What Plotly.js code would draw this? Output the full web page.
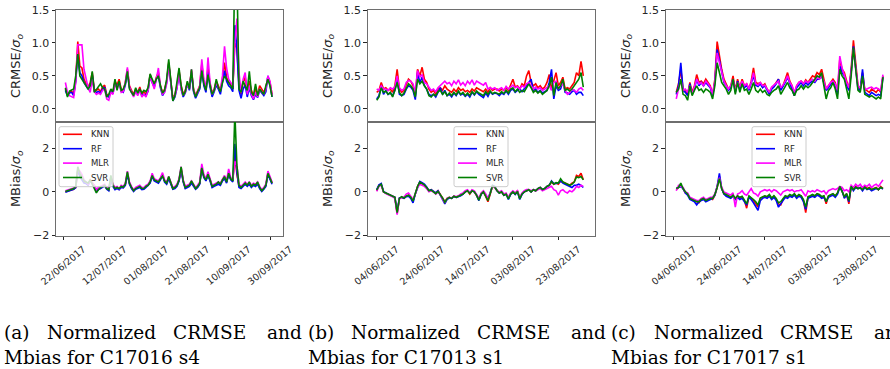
<!DOCTYPE html>
<html>
<head>
<meta charset="utf-8">
<script src="https://cdn.plot.ly/plotly-3.0.1.min.js"></script>
<style>
  html, body { margin: 0; padding: 0; overflow: hidden; background: #fff; }
  #fig { width: 893px; height: 369px; }
</style>
</head>
<body>
<div id="fig"></div>
<script>
// ---- models and colours ----
const MODELS = ['KNN', 'RF', 'MLR', 'SVR'];
const COLORS = ['#ff0000', '#0000ff', '#ff00ff', '#008000'];

// ---- (a) C17016 s4 : daily values from 23/06/2017 ----
const A_START = '2017-06-23';
const A_TICKS = ['2017-06-22', '2017-07-12', '2017-08-01', '2017-08-21', '2017-09-10', '2017-09-30'];
const A_CRMSE_KNN = [0.30,0.22,0.25,0.27,0.22,0.45,1.02,0.65,0.62,0.45,
 0.38,0.33,0.40,0.55,0.30,0.28,0.30,0.26,0.33,0.36,
 0.22,0.20,0.28,0.25,0.42,0.36,0.45,0.30,0.28,0.40,
 0.60,0.35,0.28,0.22,0.30,0.25,0.33,0.22,0.26,0.22,
 0.30,0.52,0.42,0.36,0.48,0.55,0.35,0.24,0.30,0.42,
 0.70,0.45,0.15,0.22,0.35,0.58,0.35,0.22,0.28,0.40,
 0.32,0.58,0.30,0.20,0.28,0.35,0.68,0.40,0.30,0.62,
 0.38,0.24,0.30,0.42,0.35,0.28,0.45,0.70,0.48,0.40,
 0.38,0.30,1.00,0.92,0.35,0.22,0.40,0.48,0.25,0.42,
 0.28,0.20,0.30,0.22,0.35,0.30,0.25,0.32,0.48,0.40,0.22];
const A_CRMSE_RF = [0.28,0.20,0.24,0.25,0.20,0.42,0.82,0.55,0.50,0.40,
 0.35,0.30,0.36,0.52,0.27,0.25,0.26,0.24,0.30,0.33,
 0.20,0.18,0.26,0.23,0.40,0.33,0.40,0.27,0.25,0.36,
 0.55,0.32,0.25,0.20,0.27,0.22,0.30,0.20,0.22,0.20,
 0.27,0.50,0.40,0.33,0.45,0.50,0.32,0.20,0.26,0.40,
 0.68,0.42,0.12,0.18,0.32,0.55,0.30,0.18,0.24,0.38,
 0.28,0.55,0.26,0.16,0.24,0.30,0.58,0.35,0.25,0.55,
 0.33,0.18,0.26,0.36,0.30,0.22,0.40,0.58,0.42,0.35,
 0.32,0.26,1.27,0.90,0.28,0.16,0.30,0.36,0.18,0.32,
 0.20,0.14,0.22,0.17,0.28,0.24,0.20,0.26,0.50,0.36,0.18];
const A_CRMSE_MLR = [0.40,0.25,0.20,0.18,0.17,0.40,0.97,0.97,0.97,0.60,
 0.48,0.32,0.25,0.45,0.26,0.22,0.24,0.22,0.28,0.30,
 0.15,0.13,0.25,0.22,0.38,0.30,0.40,0.25,0.26,0.40,
 0.63,0.33,0.25,0.18,0.26,0.20,0.28,0.18,0.22,0.18,
 0.28,0.50,0.40,0.30,0.45,0.62,0.33,0.22,0.25,0.38,
 0.66,0.40,0.14,0.20,0.32,0.55,0.30,0.20,0.25,0.38,
 0.30,0.60,0.28,0.20,0.25,0.35,0.75,0.45,0.30,0.78,
 0.40,0.22,0.28,0.40,0.32,0.28,0.50,0.95,0.62,0.45,
 0.40,0.35,1.00,1.37,0.55,0.25,0.45,0.55,0.22,0.35,
 0.22,0.15,0.25,0.18,0.30,0.25,0.22,0.30,0.50,0.42,0.20];
const A_CRMSE_SVR = [0.32,0.18,0.27,0.28,0.30,0.50,0.83,0.50,0.45,0.42,
 0.36,0.30,0.35,0.57,0.25,0.30,0.34,0.38,0.32,0.30,
 0.18,0.22,0.30,0.26,0.45,0.28,0.42,0.28,0.30,0.38,
 0.57,0.30,0.25,0.20,0.32,0.24,0.30,0.24,0.28,0.26,
 0.32,0.53,0.45,0.38,0.45,0.50,0.35,0.24,0.28,0.45,
 0.75,0.48,0.12,0.20,0.38,0.62,0.35,0.20,0.26,0.42,
 0.30,0.60,0.28,0.18,0.26,0.32,0.58,0.38,0.28,0.52,
 0.36,0.22,0.28,0.45,0.32,0.26,0.40,0.50,0.45,0.40,
 0.35,0.30,2.20,2.00,0.30,0.25,0.42,0.35,0.28,0.57,
 0.25,0.20,0.38,0.20,0.30,0.26,0.22,0.35,0.45,0.35,0.18];
const A_MBIAS_KNN = [0.00,0.03,0.05,0.10,0.12,0.20,0.95,0.75,0.60,0.45,
 0.40,0.35,0.55,0.45,0.30,0.05,0.12,0.20,0.25,0.30,
 0.15,0.10,0.65,0.30,0.15,0.20,0.12,0.25,0.20,0.35,
 0.85,0.40,0.20,0.05,0.15,0.20,0.25,0.15,0.15,0.25,
 0.30,0.45,0.75,0.55,0.50,0.45,0.60,0.80,0.50,0.40,
 0.65,0.40,0.15,0.20,0.30,0.55,1.05,0.50,0.20,0.25,
 0.30,0.45,0.30,0.15,0.25,0.40,1.10,0.70,0.55,0.80,
 0.55,0.25,0.30,0.35,0.40,0.35,0.55,0.65,0.45,0.85,
 0.60,0.50,1.70,0.80,0.25,0.20,0.30,0.40,0.30,0.40,
 0.25,0.35,0.30,0.40,0.20,0.05,0.15,0.30,0.85,0.60,0.40];
const A_MBIAS_RF = [-0.02,0.00,0.05,0.08,0.12,0.20,1.00,0.70,0.55,0.40,
 0.38,0.30,0.50,0.40,0.25,0.00,0.10,0.15,0.22,0.28,
 0.12,0.05,0.60,0.25,0.10,0.15,0.10,0.20,0.18,0.30,
 0.80,0.35,0.15,0.02,0.12,0.15,0.20,0.10,0.12,0.20,
 0.28,0.40,0.70,0.50,0.45,0.40,0.55,0.75,0.45,0.35,
 0.60,0.35,0.12,0.15,0.25,0.50,1.00,0.45,0.15,0.20,
 0.25,0.40,0.25,0.12,0.20,0.35,1.05,0.65,0.50,0.75,
 0.50,0.20,0.25,0.30,0.35,0.30,0.50,0.60,0.40,0.80,
 0.55,0.45,2.20,0.90,0.20,0.15,0.25,0.35,0.25,0.35,
 0.20,0.30,0.25,0.35,0.15,0.02,0.12,0.25,0.80,0.55,0.35];
const A_MBIAS_MLR = [0.05,0.08,0.10,0.15,0.18,0.25,1.00,0.95,0.80,0.55,
 0.45,0.35,0.50,0.40,0.30,0.10,0.20,0.25,0.30,0.35,
 0.20,0.15,0.70,0.35,0.20,0.25,0.15,0.30,0.25,0.40,
 0.95,0.45,0.25,0.08,0.20,0.25,0.30,0.20,0.20,0.30,
 0.35,0.50,0.85,0.60,0.55,0.50,0.65,0.88,0.55,0.45,
 0.70,0.45,0.20,0.25,0.35,0.60,1.15,0.55,0.25,0.30,
 0.35,0.50,0.35,0.20,0.30,0.45,1.28,0.80,0.60,0.92,
 0.60,0.30,0.35,0.40,0.45,0.40,0.60,0.75,0.50,1.05,
 0.65,0.55,1.40,1.20,0.35,0.25,0.35,0.45,0.35,0.45,
 0.30,0.40,0.35,0.45,0.25,0.10,0.20,0.35,0.95,0.70,0.45];
const A_MBIAS_SVR = [0.02,0.05,0.08,0.12,0.15,0.25,1.15,0.85,0.65,0.50,
 0.45,0.40,0.55,0.35,0.20,-0.05,0.10,0.20,0.25,0.30,
 0.15,0.10,0.75,0.30,0.15,0.20,0.15,0.25,0.22,0.35,
 0.92,0.40,0.20,0.05,0.15,0.20,0.25,0.15,0.15,0.25,
 0.30,0.45,0.75,0.55,0.50,0.45,0.60,0.72,0.50,0.40,
 0.70,0.40,0.15,0.20,0.30,0.55,1.15,0.50,0.20,0.25,
 0.30,0.50,0.30,0.15,0.25,0.40,1.10,0.70,0.55,0.80,
 0.55,0.25,0.30,0.35,0.45,0.35,0.55,0.70,0.45,0.85,
 0.60,0.50,3.60,1.20,0.30,0.20,0.30,0.40,0.30,0.45,
 0.25,0.35,0.30,0.45,0.20,0.05,0.15,0.30,0.85,0.60,0.40];

// ---- (b) C17013 s1 : daily values from 04/06/2017 ----
const B_START = '2017-06-04';
const B_TICKS = ['2017-06-04', '2017-06-24', '2017-07-14', '2017-08-03', '2017-08-23'];
const B_CRMSE_KNN = [0.25,0.28,0.40,0.30,0.32,0.28,0.30,0.25,0.35,0.60,
 0.30,0.25,0.28,0.38,0.45,0.42,0.35,0.20,0.60,0.50,
 0.63,0.45,0.40,0.30,0.25,0.28,0.22,0.30,0.32,0.28,
 0.35,0.30,0.28,0.25,0.30,0.26,0.32,0.28,0.30,0.26,
 0.28,0.25,0.30,0.27,0.32,0.30,0.28,0.26,0.30,0.25,
 0.32,0.28,0.30,0.30,0.27,0.30,0.28,0.32,0.28,0.38,
 0.45,0.33,0.35,0.30,0.38,0.35,0.50,0.58,0.40,0.35,
 0.38,0.32,0.35,0.30,0.33,0.40,0.52,0.30,0.45,0.55,
 0.35,0.40,0.48,0.30,0.32,0.30,0.35,0.40,0.55,0.50,
 0.72,0.50];
const B_CRMSE_RF = [0.15,0.20,0.35,0.22,0.28,0.22,0.24,0.20,0.28,0.45,
 0.22,0.20,0.22,0.30,0.35,0.33,0.28,0.14,0.55,0.40,
 0.48,0.35,0.30,0.22,0.20,0.22,0.18,0.25,0.32,0.22,
 0.28,0.20,0.22,0.18,0.24,0.20,0.26,0.21,0.23,0.19,
 0.22,0.18,0.25,0.21,0.26,0.22,0.20,0.17,0.24,0.19,
 0.26,0.22,0.24,0.23,0.20,0.24,0.22,0.27,0.22,0.28,
 0.30,0.25,0.28,0.30,0.26,0.30,0.35,0.40,0.45,0.28,
 0.30,0.25,0.28,0.24,0.26,0.28,0.40,0.60,0.15,0.35,
 0.28,0.30,0.42,0.25,0.24,0.22,0.26,0.28,0.22,0.25,
 0.25,0.20];
const B_CRMSE_MLR = [0.30,0.28,0.35,0.30,0.30,0.28,0.32,0.30,0.33,0.50,
 0.32,0.28,0.30,0.40,0.43,0.42,0.38,0.25,0.58,0.48,
 0.52,0.40,0.38,0.32,0.28,0.30,0.26,0.32,0.35,0.38,
 0.42,0.38,0.40,0.35,0.42,0.38,0.44,0.36,0.40,0.35,
 0.42,0.38,0.44,0.36,0.42,0.40,0.38,0.36,0.40,0.30,
 0.32,0.30,0.32,0.28,0.30,0.32,0.28,0.34,0.30,0.33,
 0.36,0.32,0.34,0.30,0.35,0.33,0.38,0.40,0.35,0.30,
 0.33,0.30,0.32,0.28,0.30,0.32,0.35,0.28,0.40,0.42,
 0.30,0.35,0.38,0.28,0.22,0.25,0.30,0.28,0.25,0.30,
 0.32,0.28];
const B_CRMSE_SVR = [0.13,0.18,0.32,0.25,0.27,0.22,0.25,0.18,0.28,0.40,
 0.25,0.20,0.24,0.32,0.38,0.35,0.30,0.18,0.45,0.38,
 0.42,0.35,0.30,0.20,0.18,0.22,0.20,0.26,0.28,0.22,
 0.26,0.20,0.24,0.20,0.25,0.21,0.27,0.22,0.25,0.20,
 0.24,0.20,0.26,0.22,0.27,0.24,0.22,0.20,0.26,0.22,
 0.27,0.23,0.25,0.24,0.22,0.26,0.23,0.28,0.24,0.30,
 0.32,0.26,0.30,0.25,0.28,0.26,0.33,0.38,0.32,0.25,
 0.28,0.24,0.27,0.22,0.25,0.28,0.35,0.48,0.20,0.40,
 0.30,0.35,0.45,0.28,0.30,0.27,0.30,0.35,0.40,0.45,
 0.55,0.33];
const B_MBIAS_KNN = [0.05,0.30,0.32,0.00,-0.05,-0.10,-0.15,-0.20,-0.25,-1.00,
 -0.30,-0.25,-0.30,-0.20,-0.15,-0.25,-0.40,-0.10,0.25,0.45,
 0.40,0.30,0.20,0.05,0.10,0.00,-0.05,0.05,-0.10,-0.25,
 -0.45,-0.30,-0.25,-0.30,-0.20,-0.25,-0.20,-0.15,-0.10,0.00,
 0.05,-0.10,0.05,0.00,-0.15,-0.35,-0.10,0.00,-0.20,-0.45,
 -0.10,0.25,0.20,0.05,-0.05,0.00,-0.15,-0.10,-0.30,-0.10,
 0.00,-0.10,0.05,-0.30,-0.10,0.00,0.05,0.10,0.00,0.10,
 0.05,0.15,0.20,0.10,0.15,0.25,0.30,0.45,0.35,0.40,
 0.35,0.50,0.45,0.40,0.35,0.30,0.40,0.45,0.75,0.70,
 0.85,0.55];
const B_MBIAS_RF = [0.10,0.32,0.38,0.02,-0.05,-0.12,-0.15,-0.20,-0.25,-0.90,
 -0.28,-0.25,-0.30,-0.22,-0.20,-0.30,-0.50,-0.10,0.25,0.48,
 0.42,0.35,0.22,0.05,0.10,0.02,-0.05,0.05,-0.15,-0.30,
 -0.55,-0.35,-0.28,-0.30,-0.22,-0.25,-0.22,-0.18,-0.10,0.00,
 0.05,-0.05,0.05,0.00,-0.15,-0.40,-0.12,0.00,-0.15,-0.30,
 -0.05,0.30,0.25,0.05,-0.05,0.00,-0.15,-0.10,-0.35,-0.12,
 0.00,-0.12,0.00,-0.35,-0.12,0.00,0.05,0.10,0.00,0.10,
 0.05,0.15,0.20,0.10,0.15,0.25,0.30,0.50,0.38,0.40,
 0.40,0.50,0.40,0.35,0.30,0.25,0.20,0.30,0.30,0.35,
 0.30,0.20];
const B_MBIAS_MLR = [0.02,0.25,0.30,0.00,-0.08,-0.12,-0.18,-0.22,-0.30,-1.05,
 -0.32,-0.25,-0.25,-0.10,-0.05,-0.20,-0.35,-0.10,0.20,0.35,
 0.30,0.25,0.15,0.00,0.05,0.00,-0.10,0.00,-0.15,-0.30,
 -0.50,-0.30,-0.25,-0.28,-0.20,-0.22,-0.18,-0.10,-0.05,0.05,
 0.10,-0.05,0.10,0.05,-0.10,-0.30,-0.05,0.05,-0.10,-0.30,
 -0.05,0.25,0.20,0.05,0.00,0.05,-0.10,-0.05,-0.25,-0.05,
 0.05,-0.05,0.05,-0.25,-0.05,0.05,0.10,0.10,0.05,0.10,
 0.05,0.10,0.15,0.05,0.10,0.15,0.20,0.25,0.10,0.05,
 -0.15,0.05,0.10,0.00,-0.05,0.05,0.00,0.10,0.25,0.20,
 0.30,0.25];
const B_MBIAS_SVR = [0.08,0.28,0.35,0.00,-0.05,-0.10,-0.15,-0.20,-0.25,-0.95,
 -0.30,-0.22,-0.28,-0.20,-0.15,-0.25,-0.42,-0.08,0.25,0.45,
 0.40,0.32,0.20,0.05,0.08,0.00,-0.08,0.02,-0.12,-0.28,
 -0.48,-0.32,-0.25,-0.30,-0.20,-0.25,-0.20,-0.15,-0.10,0.00,
 0.05,-0.08,0.05,0.00,-0.15,-0.38,-0.10,0.00,-0.18,-0.40,
 -0.08,0.28,0.22,0.05,-0.05,0.00,-0.15,-0.10,-0.32,-0.10,
 0.00,-0.10,0.02,-0.32,-0.10,0.00,0.05,0.10,0.00,0.10,
 0.05,0.15,0.20,0.10,0.15,0.25,0.30,0.48,0.35,0.42,
 0.40,0.60,0.45,0.40,0.35,0.30,0.35,0.45,0.68,0.65,
 0.70,0.55];

// ---- (c) C17017 s1 : daily values from 05/06/2017 ----
const C_START = '2017-06-05';
const C_TICKS = ['2017-06-04', '2017-06-24', '2017-07-14', '2017-08-03', '2017-08-23'];
const C_CRMSE_KNN = [0.25,0.38,0.60,0.30,0.28,0.22,0.40,0.25,0.35,0.52,
 0.40,0.42,0.38,0.45,0.40,0.35,0.20,0.45,1.02,0.80,
 0.60,0.45,0.38,0.30,0.35,0.50,0.28,0.45,0.32,0.45,
 0.35,0.38,0.30,0.42,0.62,0.40,0.38,0.40,0.35,0.38,
 0.30,0.25,0.32,0.35,0.40,0.45,0.30,0.35,0.45,0.55,
 0.42,0.35,0.20,0.35,0.40,0.42,0.38,0.44,0.40,0.45,
 0.50,0.48,0.55,0.52,0.60,0.45,0.30,0.35,0.40,0.45,
 0.40,0.25,0.75,0.60,0.55,0.40,0.30,0.60,1.04,0.70,
 0.35,0.30,0.55,0.30,0.28,0.25,0.30,0.28,0.25,0.30,
 0.25,0.50];
const C_CRMSE_RF = [0.22,0.35,0.70,0.28,0.25,0.20,0.38,0.22,0.30,0.45,
 0.35,0.40,0.35,0.40,0.36,0.32,0.20,0.40,0.90,0.72,
 0.55,0.40,0.35,0.28,0.32,0.45,0.25,0.42,0.30,0.40,
 0.32,0.36,0.28,0.40,0.50,0.36,0.34,0.38,0.32,0.35,
 0.28,0.22,0.30,0.33,0.38,0.45,0.28,0.33,0.40,0.48,
 0.38,0.30,0.20,0.32,0.36,0.40,0.35,0.40,0.36,0.40,
 0.42,0.40,0.45,0.45,0.50,0.40,0.28,0.32,0.38,0.42,
 0.36,0.22,0.65,0.55,0.50,0.36,0.28,0.55,0.95,0.65,
 0.30,0.28,0.60,0.25,0.22,0.20,0.25,0.22,0.20,0.22,
 0.20,0.48];
const C_CRMSE_MLR = [0.15,0.30,0.45,0.28,0.30,0.25,0.35,0.22,0.32,0.45,
 0.38,0.40,0.35,0.42,0.38,0.33,0.22,0.42,0.85,0.70,
 0.55,0.42,0.35,0.30,0.35,0.45,0.28,0.40,0.33,0.42,
 0.35,0.38,0.30,0.40,0.55,0.38,0.36,0.40,0.35,0.36,
 0.30,0.25,0.33,0.36,0.40,0.42,0.32,0.36,0.42,0.50,
 0.40,0.35,0.25,0.35,0.40,0.42,0.38,0.42,0.40,0.42,
 0.45,0.42,0.48,0.45,0.50,0.42,0.30,0.35,0.40,0.42,
 0.38,0.28,0.80,0.62,0.50,0.40,0.32,0.55,0.90,0.65,
 0.35,0.32,0.45,0.30,0.30,0.32,0.33,0.30,0.32,0.30,
 0.28,0.52];
const C_CRMSE_SVR = [0.25,0.30,0.45,0.22,0.20,0.13,0.35,0.20,0.28,0.35,
 0.28,0.30,0.25,0.30,0.28,0.25,0.15,0.35,0.70,0.55,
 0.40,0.35,0.30,0.22,0.28,0.45,0.22,0.40,0.25,0.38,
 0.28,0.30,0.22,0.30,0.40,0.28,0.25,0.30,0.25,0.28,
 0.22,0.20,0.25,0.28,0.30,0.35,0.22,0.28,0.35,0.40,
 0.32,0.28,0.20,0.28,0.30,0.35,0.30,0.35,0.32,0.35,
 0.40,0.45,0.50,0.48,0.55,0.35,0.15,0.28,0.32,0.40,
 0.30,0.15,0.60,0.50,0.45,0.30,0.15,0.50,0.93,0.60,
 0.28,0.25,0.50,0.22,0.20,0.18,0.20,0.18,0.15,0.18,
 0.15,0.48];
const C_MBIAS_KNN = [0.10,0.20,0.30,0.15,-0.05,-0.10,-0.30,-0.35,-0.40,-0.45,
 -0.50,-0.35,-0.30,-0.40,-0.35,-0.30,-0.35,-0.15,0.20,0.70,
 0.15,-0.10,-0.15,-0.20,-0.25,-0.15,-0.30,-0.20,-0.30,-0.25,
 -0.40,-0.75,-0.20,-0.30,-0.40,-0.55,-0.70,-0.30,-0.25,-0.20,
 -0.25,-0.15,-0.30,-0.20,-0.35,-0.55,-0.60,-0.35,-0.20,-0.25,
 -0.15,-0.20,-0.10,-0.25,-0.15,-0.20,-0.40,-0.95,-0.25,-0.20,
 -0.15,-0.20,-0.10,-0.15,-0.25,-0.20,-0.55,-0.20,-0.15,-0.10,
 -0.20,-0.05,0.25,0.05,-0.25,-0.10,-0.55,0.25,0.10,0.25,
 0.15,0.20,0.10,0.25,0.15,0.20,0.10,0.15,0.20,0.10,
 0.25,0.15];
const C_MBIAS_RF = [0.15,0.20,0.25,0.15,-0.05,-0.15,-0.35,-0.40,-0.45,-0.60,
 -0.45,-0.40,-0.35,-0.45,-0.40,-0.35,-0.30,-0.15,0.25,0.85,
 0.15,-0.10,-0.20,-0.25,-0.30,-0.20,-0.35,-0.25,-0.35,-0.30,
 -0.45,-0.60,-0.25,-0.35,-0.50,-0.65,-0.85,-0.40,-0.30,-0.25,
 -0.30,-0.20,-0.35,-0.25,-0.40,-0.70,-0.55,-0.40,-0.25,-0.30,
 -0.20,-0.25,-0.15,-0.30,-0.20,-0.25,-0.45,-0.80,-0.30,-0.25,
 -0.20,-0.25,-0.15,-0.20,-0.30,-0.25,-0.45,-0.25,-0.20,-0.15,
 -0.25,-0.10,0.20,0.05,-0.30,-0.15,-0.45,0.25,0.05,0.20,
 0.15,0.20,0.05,0.20,0.10,0.15,0.05,0.10,0.15,0.10,
 0.20,0.12];
const C_MBIAS_MLR = [0.05,0.30,0.25,0.20,0.00,-0.05,-0.25,-0.30,-0.35,-0.40,
 -0.40,-0.30,-0.25,-0.35,-0.30,-0.25,-0.25,-0.10,0.25,0.65,
 0.20,0.00,-0.05,-0.10,-0.15,-0.05,-0.70,-0.10,-0.05,0.05,
 -0.10,-0.15,0.00,0.15,-0.05,-0.10,-0.20,0.00,0.05,0.10,
 0.05,0.10,0.00,0.10,0.05,-0.05,-0.15,0.00,0.05,0.10,
 0.05,0.10,0.00,0.05,0.05,0.10,-0.05,-0.20,0.05,0.00,
 0.05,0.00,0.10,0.05,0.00,0.05,-0.10,0.05,0.10,0.15,
 0.10,0.15,0.25,0.20,0.05,0.10,0.00,0.30,0.20,0.35,
 0.25,0.35,0.20,0.30,0.25,0.35,0.20,0.30,0.35,0.25,
 0.40,0.55];
const C_MBIAS_SVR = [0.15,0.20,0.40,0.15,0.00,-0.10,-0.30,-0.35,-0.40,-0.45,
 -0.45,-0.35,-0.30,-0.40,-0.35,-0.30,-0.30,-0.12,0.20,0.60,
 0.15,-0.08,-0.12,-0.18,-0.25,-0.15,-0.30,-0.18,-0.25,-0.20,
 -0.35,-0.55,-0.18,-0.25,-0.35,-0.45,-0.60,-0.28,-0.22,-0.18,
 -0.22,-0.12,-0.28,-0.18,-0.30,-0.50,-0.45,-0.30,-0.18,-0.22,
 -0.12,-0.18,-0.08,-0.22,-0.12,-0.18,-0.35,-0.70,-0.22,-0.18,
 -0.12,-0.18,-0.08,-0.12,-0.22,-0.18,-0.45,-0.18,-0.12,-0.08,
 -0.18,-0.05,0.25,0.05,-0.22,-0.08,-0.40,0.25,0.10,0.22,
 0.15,0.18,0.10,0.22,0.12,0.18,0.10,0.15,0.18,0.10,
 0.20,0.15];

// ---- captions ----
const CAPTIONS = [
  ['(a) Normalized CRMSE and', 'Mbias for C17016 s4'],
  ['(b) Normalized CRMSE and', 'Mbias for C17013 s1'],
  ['(c) Normalized CRMSE and', 'Mbias for C17017 s1']
];

// ---------------------------------------------------------------
const W = 893, H = 369;
const px = v => v / W;          // pixel -> paper x
const py = v => 1 - v / H;      // pixel -> paper y

function dailyDates(start, n) {
  const d0 = Date.parse(start + 'T00:00:00Z');
  const out = [];
  for (let i = 0; i < n; i++) out.push(new Date(d0 + i * 86400000).toISOString().slice(0, 10));
  return out;
}

const panels = [
  { start: A_START, ticks: A_TICKS, crmse: [A_CRMSE_KNN, A_CRMSE_RF, A_CRMSE_MLR, A_CRMSE_SVR],
    mbias: [A_MBIAS_KNN, A_MBIAS_RF, A_MBIAS_MLR, A_MBIAS_SVR],
    range: ['2017-06-18 11:00', '2017-10-06 07:00'], x0: 56, x1: 283, legX: 59, capX: 3 },
  { start: B_START, ticks: B_TICKS, crmse: [B_CRMSE_KNN, B_CRMSE_RF, B_CRMSE_MLR, B_CRMSE_SVR],
    mbias: [B_MBIAS_KNN, B_MBIAS_RF, B_MBIAS_MLR, B_MBIAS_SVR],
    range: ['2017-05-31 00:45', '2017-09-08 00:30'], x0: 367.7, x1: 594.7, legX: 454, capX: 307 },
  { start: C_START, ticks: C_TICKS, crmse: [C_CRMSE_KNN, C_CRMSE_RF, C_CRMSE_MLR, C_CRMSE_SVR],
    mbias: [C_MBIAS_KNN, C_MBIAS_RF, C_MBIAS_MLR, C_MBIAS_SVR],
    range: ['2017-05-31 08:30', '2017-09-08 07:00'], x0: 665.7, x1: 892.7, legX: 752, capX: 610 }
];

const TOP = [10, 122], BOT = [122, 235.5];
const SPINE = '#6e6e6e', INK = '#262626';
const SANS = 'DejaVu Sans, sans-serif', SERIF = 'DejaVu Serif, serif';
const CAP_SIZE = 18.5;

const traces = [];
const layout = {
  width: W, height: H,
  margin: { l: 0, r: 0, t: 0, b: 0, pad: 0 },
  paper_bgcolor: '#ffffff', plot_bgcolor: '#ffffff',
  showlegend: false,
  font: { family: SANS, color: INK },
  shapes: [], annotations: []
};

const axKey = (c, n) => (n === 1 ? c + 'axis' : c + 'axis' + n);
const axRef = (c, n) => (n === 1 ? c : c + n);

panels.forEach((p, i) => {
  const nTop = 2 * i + 1, nBot = 2 * i + 2;
  const dates = dailyDates(p.start, p.crmse[0].length);
  const common = { showgrid: false, zeroline: false, showline: true, mirror: true,
                   linecolor: SPINE, linewidth: 1 };

  layout[axKey('x', nTop)] = Object.assign({}, common, {
    domain: [px(p.x0), px(p.x1)], range: p.range, type: 'date',
    anchor: axRef('y', nTop), showticklabels: false, ticks: ''
  });
  layout[axKey('x', nBot)] = Object.assign({}, common, {
    domain: [px(p.x0), px(p.x1)], range: p.range, type: 'date',
    anchor: axRef('y', nBot), tickvals: p.ticks, tickformat: '%d/%m/%Y',
    ticks: 'outside', ticklen: 3.5, tickwidth: 1, tickcolor: INK,
    tickangle: -40, ticklabelshift: 20, tickfont: { size: 9.5, color: INK }
  });
  layout[axKey('y', nTop)] = Object.assign({}, common, {
    domain: [py(TOP[1]), py(TOP[0])], range: [-0.2, 1.5], anchor: axRef('x', nTop),
    tickvals: [0, 0.5, 1, 1.5], tickformat: '.1f',
    ticks: 'outside', ticklen: 3.5, tickwidth: 1, tickcolor: INK,
    tickfont: { size: 11, color: INK },
    title: { text: 'CRMSE/<i>σ</i><sub><i>o</i></sub>', font: { size: 13, color: INK } }
  });
  layout[axKey('y', nBot)] = Object.assign({}, common, {
    domain: [py(BOT[1]), py(BOT[0])], range: [-2, 3.2], anchor: axRef('x', nBot),
    tickvals: [-2, 0, 2],
    ticks: 'outside', ticklen: 3.5, tickwidth: 1, tickcolor: INK,
    tickfont: { size: 11, color: INK },
    title: { text: 'MBias/<i>σ</i><sub><i>o</i></sub>', font: { size: 13, color: INK } }
  });

  MODELS.forEach((m, k) => {
    traces.push({ type: 'scatter', mode: 'lines', name: m, x: dates, y: p.crmse[k],
      xaxis: axRef('x', nTop), yaxis: axRef('y', nTop), cliponaxis: true,
      line: { color: COLORS[k], width: 1.6 } });
    traces.push({ type: 'scatter', mode: 'lines', name: m, x: dates, y: p.mbias[k],
      xaxis: axRef('x', nBot), yaxis: axRef('y', nBot), cliponaxis: true,
      line: { color: COLORS[k], width: 1.6 } });
  });

  // legend box inside the MBias panel
  const bx0 = p.legX, bx1 = p.legX + 54, by0 = 126.7, by1 = 186.7, r = 2;
  const X = v => px(v), Y = v => py(v);
  layout.shapes.push({
    type: 'path', xref: 'paper', yref: 'paper', layer: 'above',
    path: `M ${X(bx0 + r)} ${Y(by0)} L ${X(bx1 - r)} ${Y(by0)} Q ${X(bx1)} ${Y(by0)} ${X(bx1)} ${Y(by0 + r)} ` +
          `L ${X(bx1)} ${Y(by1 - r)} Q ${X(bx1)} ${Y(by1)} ${X(bx1 - r)} ${Y(by1)} ` +
          `L ${X(bx0 + r)} ${Y(by1)} Q ${X(bx0)} ${Y(by1)} ${X(bx0)} ${Y(by1 - r)} ` +
          `L ${X(bx0)} ${Y(by0 + r)} Q ${X(bx0)} ${Y(by0)} ${X(bx0 + r)} ${Y(by0)} Z`,
    fillcolor: 'rgba(255,255,255,0.8)', line: { color: '#cccccc', width: 1 }
  });
  MODELS.forEach((m, k) => {
    const yy = by0 + 7.6 + k * 14.4;
    layout.shapes.push({ type: 'line', xref: 'paper', yref: 'paper', layer: 'above',
      x0: X(bx0 + 4), x1: X(bx0 + 23), y0: Y(yy), y1: Y(yy),
      line: { color: COLORS[k], width: 1.6 } });
    layout.annotations.push({ xref: 'paper', yref: 'paper', x: X(bx0 + 31), y: Y(yy),
      xanchor: 'left', yanchor: 'middle', showarrow: false, text: m, borderpad: 0,
      font: { family: SANS, size: 8.5, color: INK } });
  });

  // caption: first line justified word by word, second line set normally
  const w1 = CAPTIONS[i][0].split(' ');
  const off1 = [0, 43, 169, 263];
  w1.forEach((w, j) => layout.annotations.push({ xref: 'paper', yref: 'paper',
    x: X(p.capX + off1[j]), y: Y(332), xanchor: 'left', yanchor: 'middle',
    showarrow: false, text: w, borderpad: 0, font: { family: SERIF, size: CAP_SIZE, color: '#000' } }));
  layout.annotations.push({ xref: 'paper', yref: 'paper',
    x: X(p.capX), y: Y(357), xanchor: 'left', yanchor: 'middle',
    showarrow: false, text: CAPTIONS[i][1], borderpad: 0,
    font: { family: SERIF, size: CAP_SIZE, color: '#000' } });
});

Plotly.newPlot('fig', traces, layout, { staticPlot: true, displayModeBar: false });
</script>
</body>
</html>
